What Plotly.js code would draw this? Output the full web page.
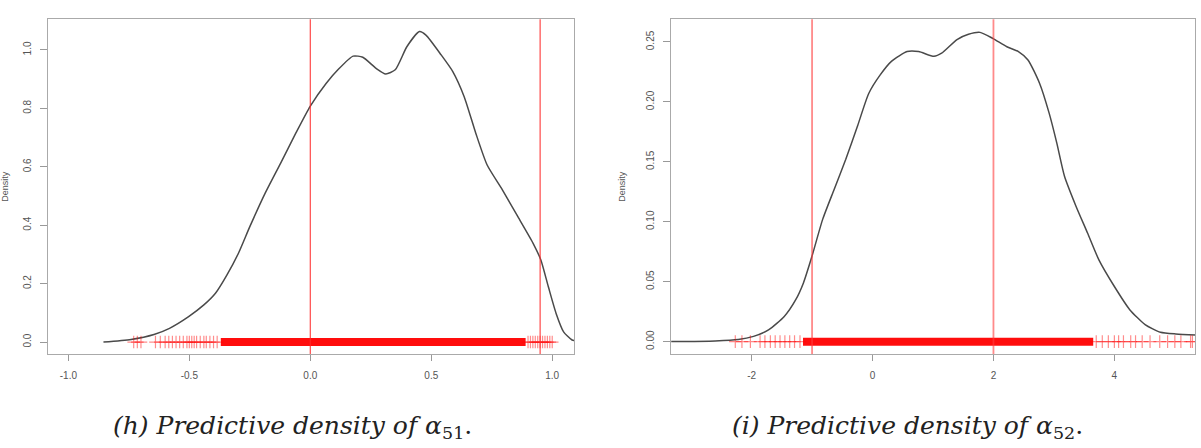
<!DOCTYPE html>
<html>
<head>
<meta charset="utf-8">
<script src="https://cdn.plot.ly/plotly-3.0.1.min.js"></script>
<style>html,body{margin:0;padding:0;background:#fff;}#chart{width:1201px;height:448px;}</style>
</head>
<body>
<div id="chart"></div>
<script>
// ---- Left panel: predictive density of alpha_51 ----
const leftX = [-0.855,-0.741,-0.646,-0.582,-0.503,-0.440,-0.392,-0.345,-0.297,-0.250,-0.187,-0.123,-0.060,0.000,0.066,0.114,0.177,0.217,0.272,0.312,0.351,0.399,0.451,0.478,0.541,0.589,0.636,0.684,0.731,0.794,0.858,0.921,0.953,0.984,1.016,1.047,1.082,1.120];
const leftY = [0.000,0.009,0.026,0.047,0.087,0.127,0.167,0.229,0.304,0.395,0.509,0.612,0.715,0.808,0.886,0.932,0.979,0.975,0.937,0.918,0.932,1.011,1.063,1.051,0.983,0.926,0.840,0.715,0.606,0.521,0.429,0.338,0.281,0.189,0.098,0.035,0.007,0.001];
const leftVLines = [0.0, 0.95];
const leftRugBand = [-0.37, 0.89];
const leftRugPoints = [-0.73,-0.715,-0.70,-0.64,-0.62,-0.60,-0.585,-0.57,-0.555,-0.54,-0.525,-0.51,-0.50,-0.49,-0.48,-0.47,-0.455,-0.44,-0.43,-0.415,-0.40,-0.385,0.90,0.91,0.92,0.93,0.94,0.95,0.96,0.97,0.98,0.99,1.0];
const leftXTicks = [-1.0,-0.5,0.0,0.5,1.0];
const leftYTicks = [0.0,0.2,0.4,0.6,0.8,1.0];

// ---- Right panel: predictive density of alpha_52 ----
const rightX = [-3.40,-2.603,-2.222,-1.968,-1.714,-1.460,-1.270,-1.143,-1.003,-0.825,-0.635,-0.444,-0.254,-0.063,0.127,0.317,0.571,0.762,1.016,1.143,1.397,1.587,1.778,1.987,2.222,2.413,2.571,2.762,2.921,3.048,3.175,3.365,3.556,3.746,4.000,4.254,4.508,4.762,5.016,5.400];
const rightY = [0.0000,0.0006,0.0017,0.0044,0.0100,0.0210,0.0350,0.0490,0.0710,0.1020,0.1270,0.1520,0.1790,0.2070,0.2225,0.2340,0.2420,0.2420,0.2380,0.2406,0.2520,0.2564,0.2580,0.2530,0.2460,0.2420,0.2350,0.2156,0.1906,0.1656,0.1380,0.1130,0.0906,0.0680,0.0460,0.0267,0.0142,0.0078,0.0064,0.0055];
const rightVLines = [-1.0, 2.0];
const rightRugBand = [-1.15, 3.65];
const rightRugPoints = [-2.27,-2.16,-2.02,-1.86,-1.78,-1.69,-1.61,-1.53,-1.45,-1.37,-1.29,-1.20,3.70,3.80,3.90,4.00,4.07,4.15,4.27,4.35,4.46,4.59,4.75,4.88,5.00,5.10,5.26,5.29];
const rightXTicks = [-2,0,2,4];
const rightYTicks = [0.00,0.05,0.10,0.15,0.20,0.25];

const captions = ["<i>(h) Predictive density of α</i><sub>51</sub>.", "<i>(i) Predictive density of α</i><sub>52</sub>."];

const curveColor = '#4a4a4a';
const rugColor = 'rgba(255,0,0,0.45)';

function panel(xs, ys, band, pts, xa, ya) {
  return [
    {x: xs, y: ys, xaxis: xa, yaxis: ya, type: 'scatter', mode: 'lines',
     line: {color: curveColor, width: 1.5, shape: 'spline', smoothing: 0.6}, hoverinfo: 'skip'},
    {x: band, y: band.map(() => 0), xaxis: xa, yaxis: ya, type: 'scatter', mode: 'lines',
     line: {color: 'rgba(255,0,0,0.95)', width: 8}, hoverinfo: 'skip'},
    {x: pts, y: pts.map(() => 0), xaxis: xa, yaxis: ya, type: 'scatter', mode: 'markers',
     marker: {symbol: 'cross-thin-open', size: 9, color: rugColor, line: {color: rugColor, width: 1.2}}, hoverinfo: 'skip'}
  ];
}

const data = [].concat(
  panel(leftX, leftY, leftRugBand, leftRugPoints, 'x', 'y'),
  panel(rightX, rightY, rightRugBand, rightRugPoints, 'x2', 'y2')
);

const tickFont = {family: 'Liberation Sans, Arial, sans-serif', size: 10, color: '#555'};
function xAxis(dom, range, ticks, fmt, anchor) {
  return {domain: dom, range: range, anchor: anchor, tickmode: 'array', tickvals: ticks,
    ticktext: ticks.map(v => v.toFixed(fmt)), ticks: 'outside', ticklen: 6, tickcolor: '#999',
    tickwidth: 1, showline: true, mirror: true, linecolor: '#aaa', linewidth: 1,
    showgrid: false, zeroline: false, tickfont: tickFont, ticklabelstandoff: 6};
}
function yAxis(dom, range, ticks, fmt, anchor, standoff) {
  return {domain: dom, range: range, anchor: anchor, tickmode: 'array', tickvals: ticks,
    ticktext: ticks.map(v => v.toFixed(fmt)), ticks: 'outside', ticklen: 7, tickcolor: '#999',
    tickwidth: 1, showline: true, mirror: true, linecolor: '#aaa', linewidth: 1,
    showgrid: false, zeroline: false, tickfont: tickFont, tickangle: -90, ticklabelstandoff: 5,
    title: {text: 'Density', font: {family: 'Liberation Sans, Arial, sans-serif', size: 9, color: '#555'}, standoff: standoff}};
}

const yDom = [1 - 354/448, 1 - 19.3/448];
const capFont = {family: 'DejaVu Serif, serif', size: 25, color: '#222'};
const layout = {
  width: 1201, height: 448,
  margin: {l: 0, r: 0, t: 0, b: 0},
  paper_bgcolor: '#fff', plot_bgcolor: '#fff',
  showlegend: false,
  xaxis: xAxis([48.3/1201, 574/1201], [-1.083, 1.09], leftXTicks, 1, 'y'),
  yaxis: yAxis(yDom, [-0.041, 1.105], leftYTicks, 1, 'x', 12),
  xaxis2: xAxis([671.2/1201, 1195.4/1201], [-3.33, 5.34], rightXTicks, 0, 'y2'),
  yaxis2: yAxis(yDom, [-0.0103, 0.2689], rightYTicks, 2, 'x2', 18),
  shapes: [].concat(
    leftVLines.map(v => ({type: 'line', xref: 'x', yref: 'y domain', x0: v, x1: v, y0: 0, y1: 1,
      line: {color: 'rgba(255,40,40,0.85)', width: 1.2}})),
    rightVLines.map(v => ({type: 'line', xref: 'x2', yref: 'y2 domain', x0: v, x1: v, y0: 0, y1: 1,
      line: {color: 'rgba(255,60,60,0.6)', width: 1.8}}))
  ),
  annotations: [
    {text: captions[0], xref: 'paper', yref: 'paper', x: 292.5/1201, y: 1 - 427/448,
     xanchor: 'center', yanchor: 'middle', showarrow: false, font: capFont},
    {text: captions[1], xref: 'paper', yref: 'paper', x: 907/1201, y: 1 - 427/448,
     xanchor: 'center', yanchor: 'middle', showarrow: false, font: capFont}
  ]
};

Plotly.newPlot('chart', data, layout, {staticPlot: true, displayModeBar: false});
</script>
</body>
</html>
